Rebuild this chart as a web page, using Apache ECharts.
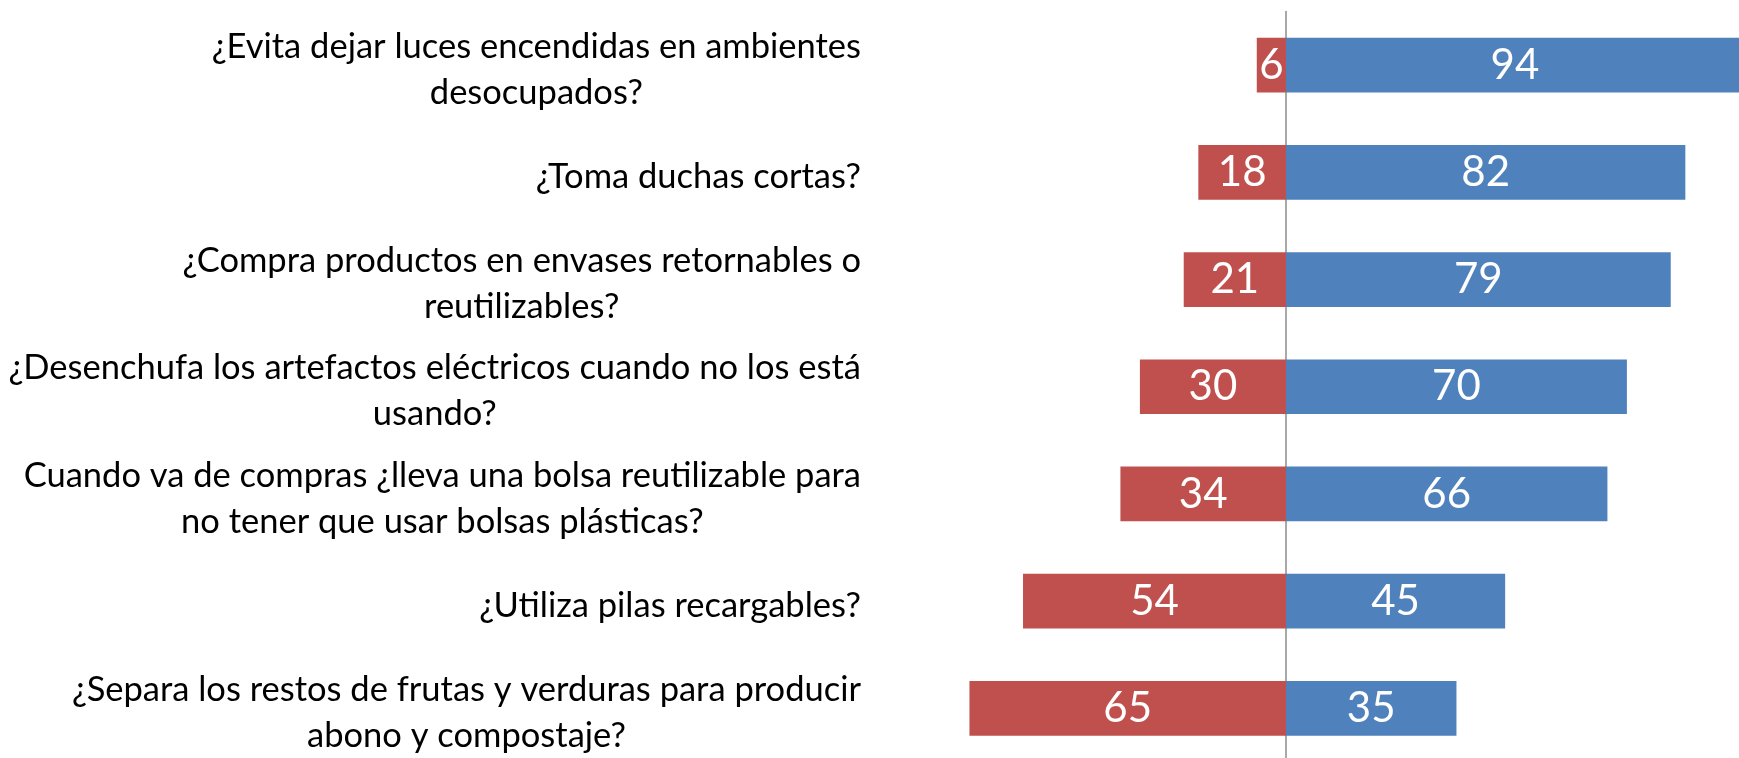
<!DOCTYPE html>
<html>
<head>
<meta charset="utf-8">
<script src="https://cdn.jsdelivr.net/npm/echarts@6/dist/echarts.min.js"></script>
<style>
    html, body { margin: 0; padding: 0; background: #fff; }
    #main { width: 1739px; height: 758px; }
</style>
</head>
<body>
<div id="main"></div>
<script>
// preguntas (de arriba hacia abajo)
const categories = [
    '¿Evita dejar luces encendidas en ambientes\ndesocupados?',
    '¿Toma duchas cortas?',
    '¿Compra productos en envases retornables o\nreutilizables?',
    '¿Desenchufa los artefactos eléctricos cuando no los está\nusando?',
    'Cuando va de compras ¿lleva una bolsa reutilizable para\nno tener que usar bolsas plásticas?',
    '¿Utiliza pilas recargables?',
    '¿Separa los restos de frutas y verduras para producir\nabono y compostaje?'
];
const noValues = [6, 18, 21, 30, 34, 54, 65];   // rojo, a la izquierda
const siValues = [94, 82, 79, 70, 66, 45, 35];  // azul, a la derecha

const FONT = 'Lato';

let myChart = echarts.init(document.getElementById('main'));

let option = {
    backgroundColor: '#fff',
    animation: false,
    grid: {
        left: 799,
        right: -34,
        top: 11.5,
        bottom: -4,
        containLabel: false,
        outerBoundsMode: 'none'
    },
    xAxis: {
        type: 'value',
        min: -100,
        max: 100,
        show: false,
        splitLine: { show: false }
    },
    yAxis: {
        type: 'category',
        inverse: true,
        data: categories,
        axisLine: {
            onZero: true,
            lineStyle: { color: '#8c8c8c', width: 1.5 }
        },
        axisTick: { show: false },
        axisLabel: {
            // las etiquetas quedan a la derecha del borde del grid
            margin: -62,
            align: 'right',
            padding: [9, 0, 0, 0],
            formatter: function (value) {
                return value.split('\n').map(function (l) {
                    return '{c|' + l + '}';
                }).join('\n');
            },
            rich: {
                c: {
                    fontFamily: FONT,
                    fontSize: 34.5,
                    lineHeight: 46,
                    color: '#000',
                    align: 'center'
                }
            }
        }
    },
    series: [
        {
            name: 'No',
            type: 'bar',
            stack: 'total',
            barWidth: '51%',
            data: noValues.map(function (v) { return -v; }),
            itemStyle: { color: '#C0504D' },
            label: {
                show: true,
                position: 'inside',
                color: '#fff',
                fontFamily: FONT,
                fontSize: 42,
                formatter: function (p) { return Math.abs(p.value); }
            }
        },
        {
            name: 'Sí',
            type: 'bar',
            stack: 'total',
            barWidth: '51%',
            data: siValues,
            itemStyle: { color: '#4F81BD' },
            label: {
                show: true,
                position: 'inside',
                color: '#fff',
                fontFamily: FONT,
                fontSize: 42
            }
        }
    ]
};

myChart.setOption(option);
</script>
</body>
</html>
